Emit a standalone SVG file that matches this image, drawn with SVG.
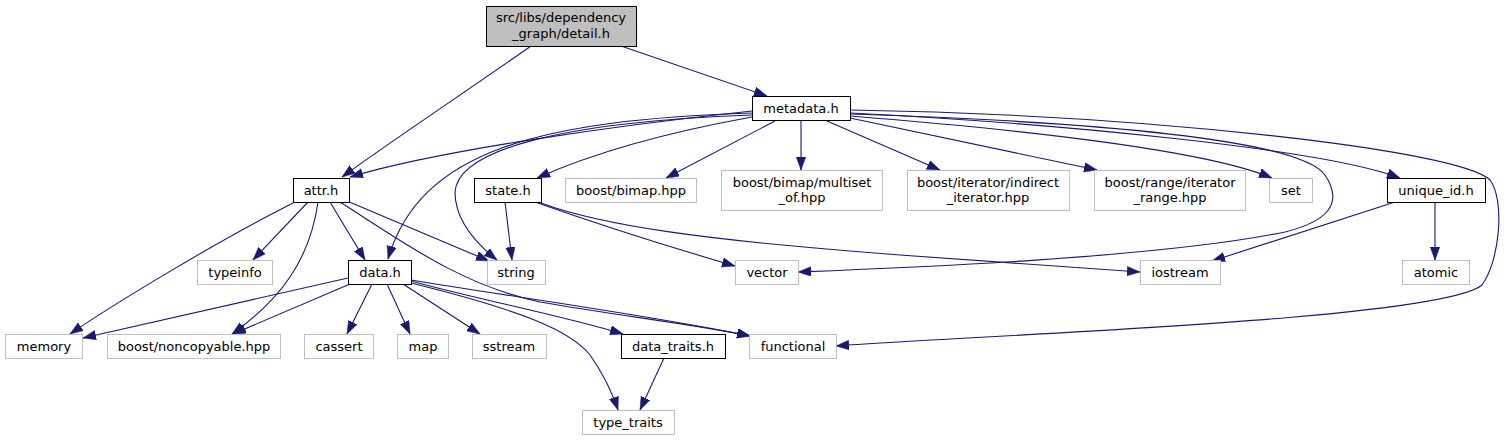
<svg xmlns="http://www.w3.org/2000/svg" width="1510" height="440" viewBox="0 0 1510 440">
<style>
.n rect{fill:#fff;stroke:#000;stroke-width:1}
.g rect{fill:#fff;stroke:#bfbfbf;stroke-width:1}
.root rect{fill:#bfbfbf;stroke:#000}
text{font-family:"DejaVu Sans",sans-serif;font-size:13px;text-anchor:middle;fill:#000}
#edges path{fill:none;stroke:#191970;stroke-width:1.1;marker-end:url(#ah)}
</style>
<defs>
<marker id="ah" markerUnits="userSpaceOnUse" markerWidth="14" markerHeight="10" refX="13" refY="4.75" orient="auto">
<path d="M0,0 L13,4.75 L0,9.5 z" fill="#191970" stroke="#191970" stroke-width="0.5"/>
</marker>
</defs>
<rect width="1510" height="440" fill="#fff"/>
<g id="edges">
<path d="M531,46 C480,82 390,142 342,177"/>
<path d="M621,46 L767,96"/>
<path d="M752,111 C620,125 440,150 350,177"/>
<path d="M752,113 C540,120 420,150 388,259"/>
<path d="M752,115 C560,122 458,150 455,192 C455,222 478,245 497,260"/>
<path d="M752,117 C680,130 600,150 537,178"/>
<path d="M775,121 L666,178"/>
<path d="M801,121 L801,170"/>
<path d="M827,121 L940,170"/>
<path d="M850,118 L1097,170"/>
<path d="M850,116 C1000,128 1200,148 1272,178"/>
<path d="M850,113 C1050,123 1320,148 1400,178"/>
<path d="M850,114 C1100,122 1300,140 1325,175 C1345,205 1325,222 1285,232 C1160,258 900,268 798,272"/>
<path d="M850,110 C1150,115 1460,150 1490,180 C1505,200 1500,260 1482,285 C1440,320 980,335 836,346"/>
<path d="M505,202 L512,260"/>
<path d="M535,202 C600,225 680,250 735,266"/>
<path d="M541,203 C600,225 700,240 900,255 C1000,262 1080,268 1140,272"/>
<path d="M293,203 C220,240 120,300 70,334"/>
<path d="M308,202 L253,260"/>
<path d="M318,202 C310,260 280,300 232,334"/>
<path d="M330,202 L365,260"/>
<path d="M347,201 L489,261"/>
<path d="M340,202 C400,240 460,285 540,302 C620,316 700,325 750,336"/>
<path d="M348,278 L83,338"/>
<path d="M350,284 L233,334"/>
<path d="M372,284 L347,334"/>
<path d="M387,284 L410,334"/>
<path d="M403,284 L480,334"/>
<path d="M411,281 C480,300 560,315 623,334"/>
<path d="M411,280 C500,295 650,315 750,336"/>
<path d="M411,283 C520,310 570,330 590,355 C602,372 612,392 618,410"/>
<path d="M664,358 L640,410"/>
<path d="M1395,202 L1212,261"/>
<path d="M1435,202 L1435,260"/>
</g>
<g id="detail" class="root"><rect x="486.5" y="6.5" width="150" height="40"/><text x="561" y="22">src/libs/dependency</text><text x="561" y="38">_graph/detail.h</text></g>
<g id="metadata" class="n"><rect x="752.5" y="96.5" width="98" height="24"/><text x="801" y="113">metadata.h</text></g>
<g id="attr" class="n"><rect x="293.5" y="178.5" width="56" height="24"/><text x="321" y="195">attr.h</text></g>
<g id="state" class="n"><rect x="474.5" y="178.5" width="67" height="24"/><text x="508" y="195">state.h</text></g>
<g id="bimap" class="g"><rect x="565.5" y="178.5" width="131" height="24"/><text x="631" y="195">boost/bimap.hpp</text></g>
<g id="multiset" class="g"><rect x="721.5" y="170.5" width="161" height="40"/><text x="802" y="187">boost/bimap/multiset</text><text x="802" y="202">_of.hpp</text></g>
<g id="indirect" class="g"><rect x="907.5" y="170.5" width="162" height="40"/><text x="988" y="187">boost/iterator/indirect</text><text x="988" y="202">_iterator.hpp</text></g>
<g id="range" class="g"><rect x="1094.5" y="170.5" width="151" height="40"/><text x="1170" y="187">boost/range/iterator</text><text x="1170" y="202">_range.hpp</text></g>
<g id="set" class="g"><rect x="1269.5" y="178.5" width="43" height="24"/><text x="1291" y="195">set</text></g>
<g id="unique_id" class="n"><rect x="1387.5" y="178.5" width="98" height="24"/><text x="1436" y="195">unique_id.h</text></g>
<g id="data" class="n"><rect x="348.5" y="260.5" width="63" height="24"/><text x="380" y="277">data.h</text></g>
<g id="typeinfo" class="g"><rect x="197.5" y="260.5" width="75" height="24"/><text x="235" y="277">typeinfo</text></g>
<g id="string" class="g"><rect x="487.5" y="260.5" width="58" height="24"/><text x="516" y="277">string</text></g>
<g id="vector" class="g"><rect x="735.5" y="260.5" width="63" height="24"/><text x="767" y="277">vector</text></g>
<g id="iostream" class="g"><rect x="1140.5" y="260.5" width="80" height="24"/><text x="1180" y="277">iostream</text></g>
<g id="atomic" class="g"><rect x="1402.5" y="260.5" width="67" height="24"/><text x="1436" y="277">atomic</text></g>
<g id="memory" class="g"><rect x="5.5" y="334.5" width="77" height="24"/><text x="44" y="351">memory</text></g>
<g id="noncopyable" class="g"><rect x="107.5" y="334.5" width="173" height="24"/><text x="194" y="351">boost/noncopyable.hpp</text></g>
<g id="cassert" class="g"><rect x="304.5" y="334.5" width="69" height="24"/><text x="339" y="351">cassert</text></g>
<g id="map" class="g"><rect x="397.5" y="334.5" width="51" height="24"/><text x="423" y="351">map</text></g>
<g id="sstream" class="g"><rect x="472.5" y="334.5" width="74" height="24"/><text x="509" y="351">sstream</text></g>
<g id="data_traits" class="n"><rect x="621.5" y="334.5" width="104" height="24"/><text x="673" y="351">data_traits.h</text></g>
<g id="functional" class="g"><rect x="749.5" y="334.5" width="87" height="24"/><text x="793" y="351">functional</text></g>
<g id="type_traits" class="g"><rect x="582.5" y="410.5" width="92" height="24"/><text x="628" y="427">type_traits</text></g>
</svg>
